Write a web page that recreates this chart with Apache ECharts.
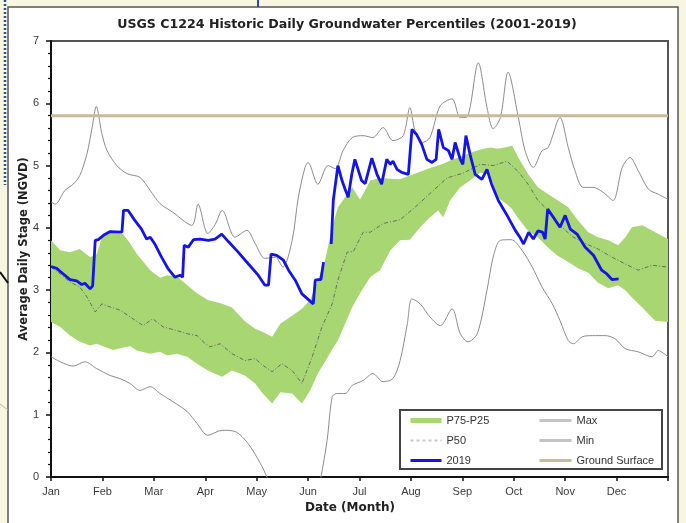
<!DOCTYPE html>
<html><head><meta charset="utf-8">
<script src="https://cdn.jsdelivr.net/npm/echarts@6/dist/echarts.min.js"></script>
<style>html,body{margin:0;padding:0;background:#f8f5e1}#c{width:686px;height:523px}</style>
</head><body><div id="c"></div>
<script>
// Month tick labels (x axis counts months from 1 Jan = 0)
const monthLabels = ['Jan','Feb','Mar','Apr','May','Jun','Jul','Aug','Sep','Oct','Nov','Dec'];

// P75 / P25 band (month position, stage)
const bandX = [0.00,0.18,0.37,0.56,0.76,0.89,1.01,1.21,1.40,1.54,1.67,1.93,2.12,2.26,2.45,2.65,2.84,3.05,3.33,3.52,3.77,3.97,4.11,4.30,4.46,4.69,4.88,5.04,5.19,5.33,5.47,5.58,5.72,5.86,6.01,6.21,6.40,6.60,6.79,6.98,7.18,7.37,7.53,7.63,7.76,7.96,8.15,8.35,8.54,8.68,8.87,8.97,9.09,9.28,9.47,9.67,9.86,10.06,10.25,10.45,10.64,10.84,11.03,11.17,11.30,11.50,11.75,12.00];
const p75 = [3.80,3.64,3.61,3.66,3.53,3.58,3.90,3.93,3.90,3.75,3.58,3.32,3.20,3.24,3.22,3.08,2.95,2.84,2.78,2.72,2.50,2.38,2.33,2.25,2.46,2.59,2.70,2.84,3.16,3.48,4.01,4.33,4.49,4.65,4.45,4.76,4.80,4.79,4.78,4.84,4.90,4.96,5.00,5.03,5.08,5.14,5.20,5.26,5.29,5.27,5.30,5.32,5.13,4.86,4.65,4.54,4.44,4.33,4.12,3.93,3.85,3.80,3.72,3.85,4.01,4.04,3.93,3.82];
const p25 = [2.49,2.41,2.27,2.17,2.11,2.14,2.10,2.04,2.08,2.10,2.03,1.98,2.01,1.95,1.98,1.93,1.82,1.71,1.61,1.71,1.63,1.50,1.35,1.18,1.36,1.34,1.18,1.39,1.66,1.85,2.05,2.19,2.46,2.73,2.95,3.21,3.32,3.64,3.80,3.81,4.01,4.17,4.28,4.17,4.44,4.65,4.76,4.89,4.86,4.49,4.38,4.30,4.15,3.95,3.85,3.68,3.55,3.45,3.35,3.28,3.12,3.03,3.08,3.00,2.88,2.72,2.51,2.49];

// P50
const p50X = [0.00,0.18,0.37,0.56,0.70,0.86,0.99,1.15,1.34,1.54,1.79,1.98,2.18,2.45,2.65,2.84,3.00,3.09,3.29,3.52,3.77,3.97,4.11,4.30,4.49,4.69,4.88,5.08,5.27,5.47,5.58,5.76,5.88,6.07,6.21,6.46,6.79,7.12,7.37,7.70,8.02,8.35,8.60,8.87,9.09,9.28,9.47,9.67,9.86,10.14,10.39,10.64,10.91,11.17,11.42,11.69,12.00];
const p50 = [3.37,3.26,3.13,3.05,2.89,2.65,2.78,2.73,2.68,2.57,2.43,2.54,2.41,2.35,2.30,2.27,2.14,2.09,2.14,1.98,1.87,1.90,1.80,1.69,1.82,1.71,1.50,1.93,2.41,2.78,3.16,3.61,3.62,3.93,3.93,4.07,4.13,4.36,4.55,4.80,4.88,5.02,5.00,5.07,4.90,4.70,4.44,4.28,4.07,3.86,3.75,3.66,3.53,3.42,3.32,3.40,3.37];

// Max
const maxX = [0.00,0.08,0.27,0.43,0.56,0.70,0.80,0.88,0.99,1.09,1.28,1.48,1.73,1.93,2.12,2.37,2.74,2.86,3.05,3.19,3.33,3.58,3.81,3.97,4.16,4.36,4.51,4.69,4.81,4.94,5.00,5.19,5.39,5.53,5.68,5.86,6.07,6.26,6.46,6.65,6.85,6.98,7.08,7.22,7.37,7.57,7.80,7.96,8.09,8.31,8.48,8.60,8.74,8.89,9.09,9.22,9.38,9.55,9.67,9.90,10.06,10.19,10.35,10.54,10.74,10.93,11.11,11.26,11.42,11.62,11.81,12.00];
const maxY = [4.42,4.38,4.60,4.70,4.84,5.19,5.61,5.95,5.51,5.24,5.00,4.87,4.81,4.60,4.39,4.25,4.04,4.38,3.91,4.05,4.28,3.85,3.96,3.75,3.51,3.53,3.37,3.80,4.49,4.97,5.05,4.70,5.00,4.95,5.24,5.45,5.48,5.45,5.61,5.40,5.48,5.93,5.56,5.37,5.45,5.96,6.07,5.77,5.78,6.65,5.93,5.59,5.77,6.50,5.77,5.24,4.97,5.24,5.29,5.77,5.29,4.92,4.65,4.65,4.57,4.44,4.97,5.13,4.92,4.62,4.54,4.46];

// Min
const minX = [0.00,0.18,0.43,0.66,0.89,1.15,1.34,1.54,1.73,1.93,2.12,2.37,2.65,2.84,3.05,3.33,3.58,3.83,4.07,4.20,4.46,4.84,5.14,5.25,5.37,5.47,5.56,5.72,5.86,6.07,6.26,6.46,6.65,6.79,6.93,7.02,7.18,7.37,7.57,7.80,7.96,8.11,8.29,8.48,8.60,8.74,8.95,9.16,9.36,9.55,9.75,9.90,10.06,10.16,10.33,10.53,10.78,10.97,11.17,11.42,11.69,11.81,12.00];
const minY = [1.93,1.85,1.78,1.85,1.74,1.63,1.58,1.50,1.39,1.45,1.34,1.21,1.05,0.86,0.67,0.75,0.73,0.54,0.22,0.00,-0.50,-0.80,-0.40,0.00,0.59,1.29,1.34,1.34,1.47,1.55,1.66,1.53,1.58,1.87,2.46,2.86,2.78,2.57,2.43,2.70,2.30,2.17,2.30,3.00,3.53,3.80,3.81,3.64,3.37,3.05,2.78,2.51,2.19,2.14,2.25,2.27,2.27,2.22,2.06,2.01,1.93,2.03,1.93];

// 2019 (null = missing record)
const obsX = [0.00,0.11,0.24,0.37,0.50,0.60,0.66,0.76,0.81,0.86,0.92,1.02,1.15,1.38,1.41,1.50,1.63,1.76,1.86,1.93,2.02,2.15,2.28,2.41,2.51,2.56,2.59,2.67,2.77,2.90,3.06,3.19,3.32,3.45,3.64,3.84,4.03,4.16,4.23,4.28,4.39,4.52,4.62,4.75,4.88,5.10,5.14,5.20,5.25,5.30,5.38,5.45,5.49,5.58,5.66,5.72,5.78,5.85,5.91,6.04,6.11,6.24,6.34,6.43,6.53,6.60,6.65,6.73,6.82,6.95,7.02,7.11,7.21,7.31,7.41,7.49,7.54,7.63,7.73,7.80,7.86,7.96,8.01,8.07,8.15,8.25,8.38,8.48,8.57,8.70,8.87,9.03,9.12,9.19,9.29,9.38,9.47,9.56,9.61,9.66,9.77,9.90,10.00,10.10,10.23,10.39,10.55,10.71,10.81,10.91,11.04];
const obs2019 = [3.38,3.35,3.26,3.17,3.15,3.09,3.11,3.02,3.07,3.80,3.81,3.88,3.94,3.93,4.28,4.28,4.12,3.98,3.82,3.85,3.74,3.53,3.34,3.21,3.24,3.21,3.72,3.69,3.81,3.82,3.80,3.82,3.90,3.78,3.61,3.42,3.24,3.08,3.08,3.58,3.56,3.48,3.32,3.16,2.94,2.78,3.16,3.17,3.17,3.45,null,3.74,4.44,5.00,4.76,4.62,4.49,4.86,5.10,4.76,4.71,5.12,4.86,4.70,5.10,5.02,5.07,4.94,4.89,4.86,5.58,5.50,5.34,5.10,5.05,5.10,5.58,5.29,5.24,5.10,5.37,5.10,5.02,5.48,5.18,4.86,4.78,4.94,4.70,4.44,4.20,3.96,3.85,3.74,3.93,3.82,3.95,3.93,3.82,4.30,4.17,4.01,4.20,3.98,3.90,3.69,3.56,3.32,3.26,3.17,3.18];

// Ground surface elevation
const groundSurface = 5.8;

const zip = (xs, ys) => xs.map((x, i) => [x, ys[i]]);

const FONT = "'Liberation Sans',Arial,sans-serif";
const FONTB = "'DejaVu Sans',sans-serif";
const GREEN = '#a8d672';
const BLUE = '#1414e6';
const noSym = {opacity: 0};

const chart = echarts.init(document.getElementById('c'), null, {renderer: 'canvas'});
chart.setOption({
  animation: false,
  backgroundColor: '#f8f5e1',
  grid: {left: 51, right: 18, top: 41, bottom: 46, show: true, borderColor: '#555', borderWidth: 2, backgroundColor: 'transparent', containLabel: false, outerBoundsMode: 'none'},
  xAxis: {
    type: 'value', min: 0, max: 12, interval: 1,
    axisLine: {lineStyle: {color: '#111', width: 2}},
    axisTick: {length: 4, lineStyle: {color: '#111', width: 1.5}},
    axisLabel: {margin: 9, fontSize: 11, color: '#3a3a3a', fontFamily: FONT,
      formatter: v => monthLabels[v] || ''},
    splitLine: {show: false}
  },
  yAxis: {
    type: 'value', min: 0, max: 7, interval: 1,
    axisLine: {show: true, lineStyle: {color: '#111', width: 2}},
    axisTick: {show: true, length: 5, lineStyle: {color: '#111', width: 1.5}},
    minorTick: {show: true, splitNumber: 5, length: 3, lineStyle: {color: '#111', width: 1.2}},
    axisLabel: {margin: 12, fontSize: 11, color: '#3a3a3a', fontFamily: FONT},
    splitLine: {show: false}
  },
  legend: [
    {left: 409, top: 415, padding: 0, orient: 'vertical', itemWidth: 31, itemHeight: 5, itemGap: 9, selectedMode: false,
     textStyle: {fontSize: 11, color: '#333', fontFamily: FONT}, z: 6,
     data: [
       {name: 'P75-P25', icon: 'rect', itemStyle: {color: GREEN}},
       {name: 'P50', lineStyle: {color: '#c8c8c8', width: 2, type: [3, 3], opacity: 1}, itemStyle: noSym},
       {name: '2019', lineStyle: {color: BLUE, width: 3}, itemStyle: noSym}
     ]},
    {left: 538, top: 415, padding: 0, orient: 'vertical', itemWidth: 32, itemHeight: 5, itemGap: 9, selectedMode: false,
     textStyle: {fontSize: 11, color: '#333', fontFamily: FONT}, z: 6,
     data: [
       {name: 'Max', lineStyle: {color: '#c4c4c4', width: 3}, itemStyle: noSym},
       {name: 'Min', lineStyle: {color: '#c4c4c4', width: 3}, itemStyle: noSym},
       {name: 'Ground Surface', lineStyle: {color: '#c8bb98', width: 3}, itemStyle: noSym}
     ]}
  ],
  graphic: [
    {type: 'rect', z: -10, silent: true, shape: {x: 8, y: 7, width: 670, height: 540}, style: {fill: '#fff', stroke: '#555', lineWidth: 1.5}},
    {type: 'line', z: -10, silent: true, shape: {x1: 5, y1: 0, x2: 5, y2: 185}, style: {stroke: '#2a4f9a', lineWidth: 2.5, lineDash: [2, 2]}},
    {type: 'line', z: -10, silent: true, shape: {x1: 0, y1: 272, x2: 8, y2: 283}, style: {stroke: '#111', lineWidth: 2}},
    {type: 'line', z: -10, silent: true, shape: {x1: 0, y1: 404, x2: 8, y2: 410}, style: {stroke: '#bbb', lineWidth: 1}},
    {type: 'line', z: -10, silent: true, shape: {x1: 258, y1: 0, x2: 258, y2: 7}, style: {stroke: '#2a4f9a', lineWidth: 2}},
    {type: 'rect', z: 5, silent: true, shape: {x: 400, y: 410, width: 262, height: 59}, style: {fill: '#fff', stroke: '#444', lineWidth: 2}},
    {type: 'text', z: 10, silent: true, x: 347, y: 25, style: {text: 'USGS C1224 Historic Daily Groundwater Percentiles (2001-2019)', align: 'center', verticalAlign: 'middle', font: "bold 12.6px " + FONTB, fill: '#222'}},
    {type: 'text', z: 10, silent: true, x: 350, y: 508, style: {text: 'Date (Month)', align: 'center', verticalAlign: 'middle', font: "bold 12px " + FONTB, fill: '#222'}},
    {type: 'text', z: 10, silent: true, x: 24, y: 249, rotation: Math.PI / 2, style: {text: 'Average Daily Stage (NGVD)', align: 'center', verticalAlign: 'middle', font: "bold 11.5px " + FONTB, fill: '#222'}}
  ],
  series: [
    {name: 'P75-P25', type: 'custom', silent: true, z: 1, clip: true,
     itemStyle: {color: GREEN},
     data: bandX.map((x, i) => [x, p75[i], p25[i]]),
     encode: {x: 0, y: [1, 2]},
     renderItem: (params, api) => {
       if (params.dataIndex !== 0) return null;
       const top = bandX.map((x, i) => api.coord([x, p75[i]]));
       const bot = bandX.map((x, i) => api.coord([x, p25[i]])).reverse();
       return {type: 'polygon', shape: {points: top.concat(bot)}, style: {fill: GREEN}};
     }},
    {name: 'P50', type: 'line', symbol: 'none', data: zip(p50X, p50),
     lineStyle: {color: '#6a6a6a', width: 1, type: [4, 2, 1, 2]}, itemStyle: {color: '#c8c8c8'}, z: 2},
    {name: 'Max', type: 'line', symbol: 'none', smooth: 0.3, data: zip(maxX, maxY),
     lineStyle: {color: '#8c8c8c', width: 1}, itemStyle: {color: '#c4c4c4'}, z: 2},
    {name: 'Min', type: 'line', symbol: 'none', smooth: 0.3, data: zip(minX, minY),
     lineStyle: {color: '#8c8c8c', width: 1}, itemStyle: {color: '#c4c4c4'}, z: 2},
    {name: 'Ground Surface', type: 'line', symbol: 'none', data: [[0, groundSurface], [12, groundSurface]],
     lineStyle: {color: '#c8bb98', width: 3}, itemStyle: {color: '#c8bb98'}, z: 2},
    {name: '2019', type: 'line', symbol: 'none', connectNulls: false, data: zip(obsX, obs2019),
     lineStyle: {color: BLUE, width: 2.8}, itemStyle: {color: BLUE}, z: 3}
  ]
});
</script></body></html>
